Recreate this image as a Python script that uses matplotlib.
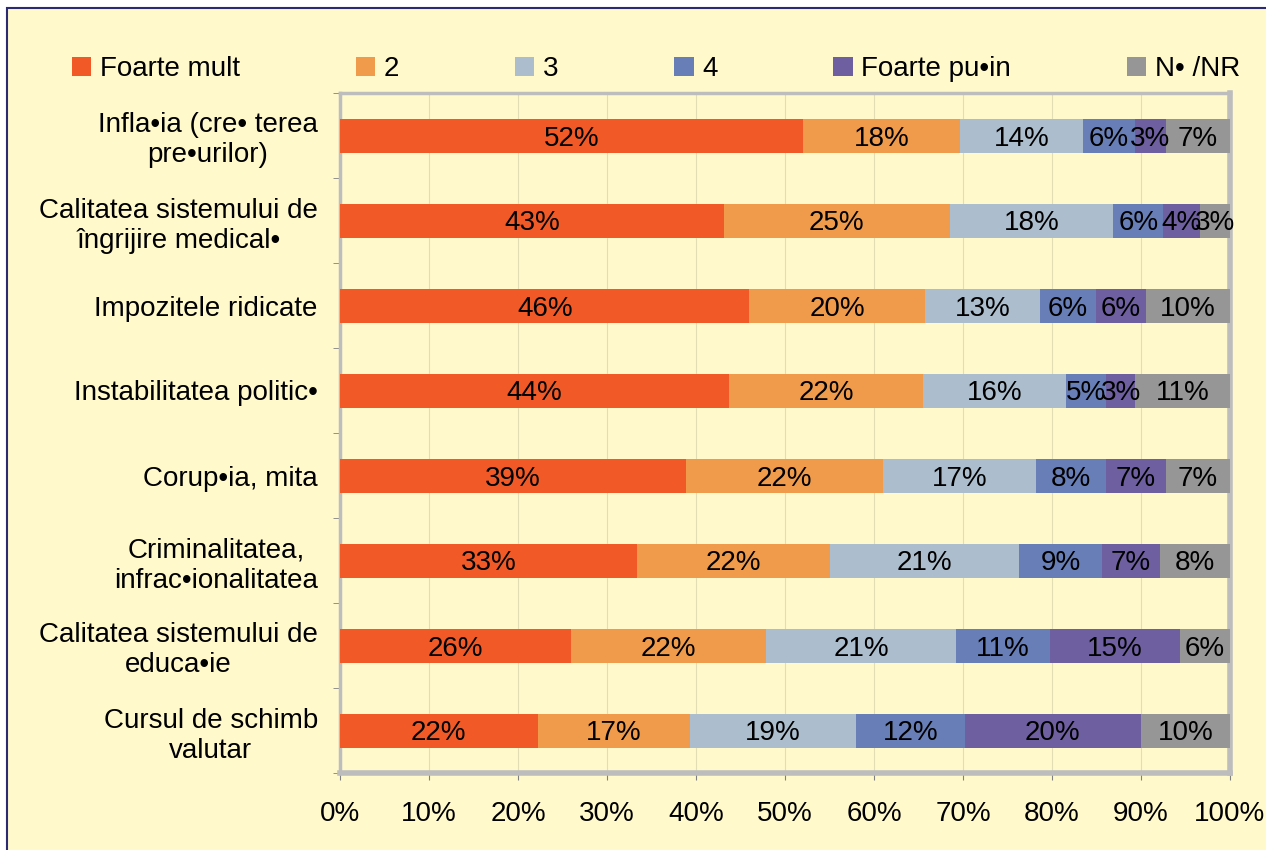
import numpy as np
import matplotlib.pyplot as plt
from matplotlib.patches import Rectangle, Patch

plt.rcParams['font.family'] = ['Liberation Sans', 'DejaVu Sans']

# categories, top to bottom
categories = [
    "Infla\u2022ia (cre\u2022 terea\npre\u2022urilor)",
    "Calitatea sistemului de\n\u00eengrijire medical\u2022",
    "Impozitele ridicate",
    "Instabilitatea politic\u2022",
    "Corup\u2022ia, mita",
    "Criminalitatea,\ninfrac\u2022ionalitatea",
    "Calitatea sistemului de\neduca\u2022ie",
    "Cursul de schimb\nvalutar",
]
series_names = ["Foarte mult", "2", "3", "4", "Foarte pu\u2022in", "N\u2022 /NR"]

# segment widths (percent)
foarte_mult = [52.0, 43.1, 46.0, 43.7, 38.9, 33.4, 26.0, 22.2]
s2 = [17.7, 25.4, 19.7, 21.8, 22.1, 21.7, 21.9, 17.1]
s3 = [13.8, 18.4, 13.0, 16.1, 17.2, 21.2, 21.3, 18.7]
s4 = [5.8, 5.6, 6.2, 4.5, 7.9, 9.3, 10.6, 12.2]
foarte_putin = [3.5, 4.1, 5.7, 3.2, 6.7, 6.5, 14.6, 19.8]
ns_nr = [7.2, 3.4, 9.4, 10.7, 7.2, 7.9, 5.6, 10.0]

# labels as printed on the chart
labels = [
    [52, 43, 46, 44, 39, 33, 26, 22],
    [18, 25, 20, 22, 22, 22, 22, 17],
    [14, 18, 13, 16, 17, 21, 21, 19],
    [6, 6, 6, 5, 8, 9, 11, 12],
    [3, 4, 6, 3, 7, 7, 15, 20],
    [7, 3, 10, 11, 7, 8, 6, 10],
]

colors = ["#F15A26", "#EF9B4B", "#ACBECE", "#677EB6", "#6E5FA0", "#969696"]
bg = "#FFF9CC"
fs = 20

fig = plt.figure(figsize=(12.66, 8.5), dpi=100, facecolor="white")
fig.patches.append(Rectangle((7 / 1266, -0.1), 1.2, 1 - 8 / 850 + 0.1,
                             transform=fig.transFigure, facecolor=bg,
                             edgecolor="#2B2A72", linewidth=1.5, zorder=-5))

ax = fig.add_axes([340 / 1266, 1 - 773 / 850, 890 / 1266, 680 / 850])
ax.set_facecolor(bg)

data = [foarte_mult, s2, s3, s4, foarte_putin, ns_nr]
y = np.arange(len(categories))
left = np.zeros(len(categories))
for vals, lab, col, name in zip(data, labels, colors, series_names):
    vals = np.array(vals)
    ax.barh(y, vals, left=left, height=0.4, color=col, label=name, zorder=3)
    for yi, l, v, t in zip(y, left, vals, lab):
        ax.text(l + v / 2, yi, f"{t}%", ha="center", va="center_baseline",
                fontsize=fs, color="black", zorder=4)
    left += vals

ax.set_xlim(0, 100)
ax.set_ylim(7.5, -0.5)
ax.set_xticks(np.arange(0, 101, 10))
ax.set_xticklabels([f"{v}%" for v in range(0, 101, 10)], fontsize=fs)
ax.set_yticks(y)
ax.set_yticklabels(categories, fontsize=fs, multialignment="center")
ax.set_yticks(np.arange(-0.5, 8, 1), minor=True)
ax.tick_params(axis="y", which="major", length=0, pad=16)
ax.tick_params(axis="y", which="minor", length=5, color="#808080", direction="out")
ax.tick_params(axis="x", length=5, color="#808080", pad=15)
ax.grid(axis="x", color="#E2DDB2", linewidth=0.8, zorder=0)

for side in ["top", "right", "bottom", "left"]:
    ax.spines[side].set_color("#BDBDBD")
ax.spines["top"].set_linewidth(2.5)
ax.spines["left"].set_linewidth(2.5)
ax.spines["right"].set_linewidth(4)
ax.spines["bottom"].set_linewidth(4)

handles = [Patch(facecolor=c, edgecolor="none") for c in colors]
fig.legend(handles, series_names, loc="center", ncol=6, mode="expand",
           bbox_to_anchor=(72 / 1266, 1 - 69 / 850, (1240 - 72) / 1266, 0),
           frameon=False, fontsize=fs, handlelength=0.7, handleheight=0.7,
           handletextpad=0.3, borderaxespad=0, borderpad=0)

fig.savefig("out.png", dpi=100, facecolor="white")
